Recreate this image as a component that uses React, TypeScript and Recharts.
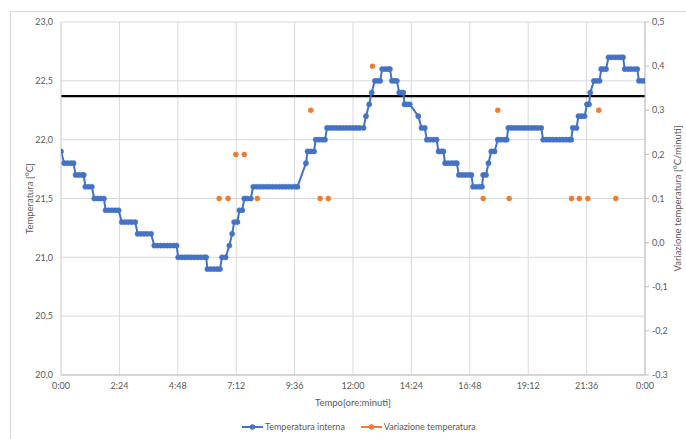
import React from 'react';
import { ComposedChart, Line, Scatter, XAxis, YAxis, CartesianGrid, ReferenceLine } from 'recharts';

// tempo in minuti dalla mezzanotte, temperatura in °C
const temperaturaInterna: [number, number][] = [
  [0, 21.9],
  [8, 21.8], [16, 21.8], [24, 21.8], [31, 21.8],
  [36, 21.7], [44, 21.7], [52, 21.7], [56, 21.7],
  [60, 21.6], [68, 21.6], [76, 21.6],
  [82, 21.5], [90, 21.5], [98, 21.5], [106, 21.5],
  [110, 21.4], [118, 21.4], [126, 21.4], [134, 21.4], [142, 21.4],
  [150, 21.3], [158, 21.3], [166, 21.3], [174, 21.3], [183, 21.3],
  [189, 21.2], [197, 21.2], [205, 21.2], [213, 21.2], [222, 21.2],
  [230, 21.1], [238, 21.1], [246, 21.1], [254, 21.1], [262, 21.1], [270, 21.1], [278, 21.1], [285, 21.1],
  [289, 21.0], [297, 21.0], [305, 21.0], [313, 21.0], [321, 21.0], [329, 21.0], [337, 21.0], [345, 21.0], [353, 21.0], [358, 21.0],
  [361, 20.9], [369, 20.9], [377, 20.9], [385, 20.9], [392, 20.9],
  [397, 21.0], [406, 21.0],
  [415, 21.1],
  [422, 21.2],
  [427, 21.3], [435, 21.3],
  [440, 21.4], [447, 21.4],
  [452, 21.5], [459, 21.5], [468, 21.5],
  [474, 21.6], [482, 21.6], [490, 21.6], [498, 21.6], [506, 21.6], [514, 21.6], [522, 21.6], [530, 21.6],
  [538, 21.6], [546, 21.6], [554, 21.6], [562, 21.6], [570, 21.6], [578, 21.6], [583, 21.6],
  [604, 21.8],
  [608, 21.9], [616, 21.9], [624, 21.9],
  [628, 22.0], [636, 22.0], [644, 22.0], [651, 22.0],
  [656, 22.1], [664, 22.1], [672, 22.1], [680, 22.1], [688, 22.1], [696, 22.1], [704, 22.1], [712, 22.1],
  [720, 22.1], [728, 22.1], [736, 22.1], [746, 22.1],
  [752, 22.2],
  [760, 22.3],
  [766, 22.4],
  [774, 22.5], [781, 22.5], [787, 22.5],
  [792, 22.6], [799, 22.6], [806, 22.6], [811, 22.6],
  [816, 22.5], [822, 22.5], [828, 22.5],
  [834, 22.4], [840, 22.4], [844, 22.4],
  [847, 22.3], [853, 22.3], [860, 22.3],
  [881, 22.2],
  [889, 22.1], [897, 22.1],
  [902, 22.0], [910, 22.0], [918, 22.0], [926, 22.0],
  [931, 21.9], [938, 21.9], [943, 21.9],
  [947, 21.8], [955, 21.8], [963, 21.8], [970, 21.8], [976, 21.8],
  [981, 21.7], [989, 21.7], [997, 21.7], [1005, 21.7], [1012, 21.7],
  [1016, 21.6], [1024, 21.6], [1032, 21.6], [1038, 21.6],
  [1041, 21.7], [1048, 21.7],
  [1054, 21.8],
  [1061, 21.9], [1069, 21.9],
  [1077, 22.0], [1085, 22.0], [1093, 22.0], [1099, 22.0],
  [1103, 22.1], [1111, 22.1], [1119, 22.1], [1127, 22.1], [1135, 22.1], [1143, 22.1], [1151, 22.1],
  [1159, 22.1], [1167, 22.1], [1175, 22.1], [1184, 22.1],
  [1189, 22.0], [1197, 22.0], [1205, 22.0], [1213, 22.0], [1221, 22.0], [1229, 22.0], [1237, 22.0],
  [1245, 22.0], [1253, 22.0], [1258, 22.0],
  [1262, 22.1], [1271, 22.1],
  [1276, 22.2], [1284, 22.2], [1291, 22.2],
  [1297, 22.3], [1302, 22.3],
  [1305, 22.4],
  [1314, 22.5], [1321, 22.5], [1328, 22.5],
  [1332, 22.6], [1338, 22.6], [1344, 22.6],
  [1350, 22.7], [1358, 22.7], [1366, 22.7], [1374, 22.7], [1381, 22.7], [1386, 22.7],
  [1390, 22.6], [1398, 22.6], [1406, 22.6], [1414, 22.6], [1421, 22.6],
  [1425, 22.5], [1432, 22.5], [1439, 22.5],
];

// variazione temperatura in °C/minuti
const variazioneTemperatura: [number, number][] = [
  [390, 0.1], [412, 0.1], [431, 0.2], [452, 0.2], [484, 0.1], [616, 0.3], [639, 0.1], [659, 0.1],
  [768, 0.4], [1041, 0.1], [1077, 0.3], [1105, 0.1], [1259, 0.1], [1278, 0.1], [1299, 0.1],
  [1326, 0.3], [1368, 0.1],
];

const xTicks = [0, 144, 288, 432, 576, 720, 864, 1008, 1152, 1296, 1440];
const xTickLabels = ['0:00', '2:24', '4:48', '7:12', '9:36', '12:00', '14:24', '16:48', '19:12', '21:36', '0:00'];
const leftTicks = [20, 20.5, 21, 21.5, 22, 22.5, 23];
const rightTicks = [-0.3, -0.2, -0.1, 0, 0.1, 0.2, 0.3, 0.4, 0.5];
const soglia = 22.37;

const BLUE = '#4472C4';
const ORANGE = '#ED7D31';
const TXT = '#595959';
const FONT = 'Lato, "Open Sans", sans-serif';

const tempData = temperaturaInterna.map(([t, v]) => ({ t, temp: v }));
const varData = variazioneTemperatura.map(([t, v]) => ({ t, vari: v }));

const comma = (v: number) => v.toFixed(1).replace('.', ',');
const tickStyle = { fill: TXT, fontSize: 9, fontFamily: FONT };

const LeftTitle = (props: any) => {
  const vb = props.viewBox || {};
  const cx = 29;
  const cy = vb.y + vb.height / 2;
  return (
    <text x={cx} y={cy} transform={`rotate(-90 ${cx} ${cy})`} textAnchor="middle" dominantBaseline="central"
      fill={TXT} fontSize={9.5} fontFamily={FONT}>Temperatura [°C]</text>
  );
};

const RightTitle = (props: any) => {
  const vb = props.viewBox || {};
  const cx = 677;
  const cy = vb.y + vb.height / 2;
  return (
    <text x={cx} y={cy} transform={`rotate(-90 ${cx} ${cy})`} textAnchor="middle" dominantBaseline="central"
      fill={TXT} fontSize={9.5} fontFamily={FONT}>Variazione temperatura [°C/minuti]</text>
  );
};

const BottomTitle = (props: any) => {
  const vb = props.viewBox || {};
  return (
    <text x={vb.x + vb.width / 2} y={402} textAnchor="middle" dominantBaseline="central"
      fill={TXT} fontSize={9.5} fontFamily={FONT}>Tempo[ore:minuti]</text>
  );
};

function LegendItem({ color, label }: { color: string; label: string }) {
  return (
    <span style={{ display: 'inline-flex', alignItems: 'center', marginRight: 16 }}>
      <svg width={21} height={8} style={{ marginRight: 2 }}>
        <line x1={0} y1={4} x2={21} y2={4} stroke={color} strokeWidth={2} />
        <circle cx={10.5} cy={4} r={2.7} fill={color} />
      </svg>
      <span>{label}</span>
    </span>
  );
}

export default function App() {
  return (
    <div style={{ position: 'absolute', left: 0, top: 0, width: 686, height: 439, background: '#fff', overflow: 'hidden' }}>
      <div style={{ position: 'absolute', left: 10, top: 11, width: 690, height: 450, border: '1px solid #d9d9d9', boxSizing: 'border-box' }} />
      <div style={{ position: 'absolute', left: 0, top: 0 }}>
        <ComposedChart width={686} height={439} margin={{ top: 22, right: 6, bottom: 44, left: 21 }}>
          <CartesianGrid yAxisId="left" stroke="#d9d9d9" strokeWidth={1} />
          <XAxis
            dataKey="t"
            type="number"
            domain={[0, 1440]}
            ticks={xTicks}
            tickFormatter={(v: number) => xTickLabels[xTicks.indexOf(v)] ?? ''}
            height={20}
            tick={tickStyle}
            tickLine={false}
            axisLine={{ stroke: '#bfbfbf' }}
            interval={0}
            allowDataOverflow
            label={<BottomTitle />}
          />
          <YAxis
            yAxisId="left"
            domain={[20, 23]}
            ticks={leftTicks}
            tickFormatter={comma}
            width={40}
            tick={tickStyle}
            tickLine={false}
            axisLine={{ stroke: '#d9d9d9' }}
            interval={0}
            label={<LeftTitle />}
          />
          <YAxis
            yAxisId="right"
            orientation="right"
            domain={[-0.3, 0.5]}
            ticks={rightTicks}
            tickFormatter={comma}
            width={35}
            tick={tickStyle}
            tickSize={4}
            tickMargin={3}
            tickLine={{ stroke: '#bfbfbf' }}
            axisLine={{ stroke: '#bfbfbf' }}
            interval={0}
            label={<RightTitle />}
          />
          <ReferenceLine yAxisId="left" y={soglia} stroke="#000" strokeWidth={2.2} ifOverflow="extendDomain" />
          <Line
            yAxisId="left"
            data={tempData}
            dataKey="temp"
            type="linear"
            stroke={BLUE}
            strokeWidth={2}
            dot={{ r: 2.6, fill: BLUE, stroke: BLUE, strokeWidth: 0.5 }}
            isAnimationActive={false}
          />
          <Scatter
            yAxisId="right"
            data={varData}
            dataKey="vari"
            fill={ORANGE}
            shape={(p: any) => <circle cx={p.cx} cy={p.cy} r={2.7} fill={ORANGE} />}
            isAnimationActive={false}
          />
        </ComposedChart>
      </div>
      <div style={{ position: 'absolute', left: 242, top: 421, fontFamily: FONT, fontSize: 9, color: TXT, display: 'flex', whiteSpace: 'nowrap' }}>
        <LegendItem color={BLUE} label="Temperatura interna" />
        <LegendItem color={ORANGE} label="Variazione temperatura" />
      </div>
    </div>
  );
}
